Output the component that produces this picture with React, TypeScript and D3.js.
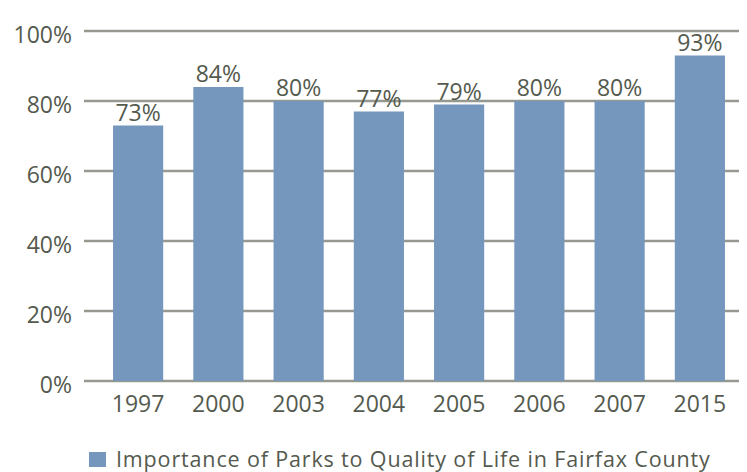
import React, { useEffect, useRef } from "react";
import * as d3 from "d3";

const years = ["1997", "2000", "2003", "2004", "2005", "2006", "2007", "2015"];
const values = [73, 84, 80, 77, 79, 80, 80, 93];
const yTicks = [0, 20, 40, 60, 80, 100];
const seriesName = "Importance of Parks to Quality of Life in Fairfax County";

const App = () => {
  const width = 747;
  const height = 472;
  const svgRef = useRef<SVGSVGElement>(null);

  const barColor = "#7596bd";
  const textColor = "#545a4e";
  const gridColor = "#969990";
  const font = "'Open Sans', Lato, sans-serif";

  useEffect(() => {
    if (!svgRef.current) return;
    const svg = d3.select(svgRef.current);
    svg.selectAll("*").remove();

    const x = d3
      .scaleBand<string>()
      .domain(years)
      .range([98, 740])
      .paddingInner(0.375)
      .paddingOuter(0.1875);

    const y = d3.scaleLinear().domain([0, 100]).range([381, 31]);

    // gridlines
    svg
      .append("g")
      .selectAll("line")
      .data(yTicks)
      .join("line")
      .attr("x1", 84)
      .attr("x2", 739)
      .attr("y1", (d) => y(d))
      .attr("y2", (d) => y(d))
      .attr("stroke", gridColor)
      .attr("stroke-width", 2.5);

    // y labels
    svg
      .append("g")
      .selectAll("text")
      .data(yTicks)
      .join("text")
      .attr("x", 72)
      .attr("y", (d) => y(d) + 4)
      .attr("dy", "0.35em")
      .attr("text-anchor", "end")
      .attr("fill", textColor)
      .style("font-family", font)
      .style("font-size", "23px")
      .text((d) => `${d}%`);

    // bars
    svg
      .append("g")
      .selectAll("rect")
      .data(values)
      .join("rect")
      .attr("x", (d, i) => x(years[i])!)
      .attr("width", x.bandwidth())
      .attr("y", (d) => y(d))
      .attr("height", (d) => y(0) - y(d))
      .attr("fill", barColor);

    // value labels
    svg
      .append("g")
      .selectAll("text")
      .data(values)
      .join("text")
      .attr("x", (d, i) => x(years[i])! + x.bandwidth() / 2)
      .attr("y", (d) => y(d) - 5)
      .attr("text-anchor", "middle")
      .attr("fill", textColor)
      .style("font-family", font)
      .style("font-size", "23px")
      .text((d) => `${d}%`);

    // x labels
    svg
      .append("g")
      .selectAll("text")
      .data(years)
      .join("text")
      .attr("x", (d) => x(d)! + x.bandwidth() / 2)
      .attr("y", 412)
      .attr("text-anchor", "middle")
      .attr("fill", textColor)
      .style("font-family", font)
      .style("font-size", "23px")
      .text((d) => d);

    // legend
    svg
      .append("rect")
      .attr("x", 89)
      .attr("y", 452)
      .attr("width", 17)
      .attr("height", 15)
      .attr("fill", barColor);

    svg
      .append("text")
      .attr("x", 116)
      .attr("y", 467)
      .attr("fill", textColor)
      .style("font-family", font)
      .style("font-size", "21.5px")
      .style("letter-spacing", "0.85px")
      .text(seriesName);
  }, []);

  return (
    <div>
      <svg
        ref={svgRef}
        width={width}
        height={height}
        style={{ position: "absolute", left: 0, top: 0, background: "#fff" }}
      ></svg>
    </div>
  );
};

export default App;
